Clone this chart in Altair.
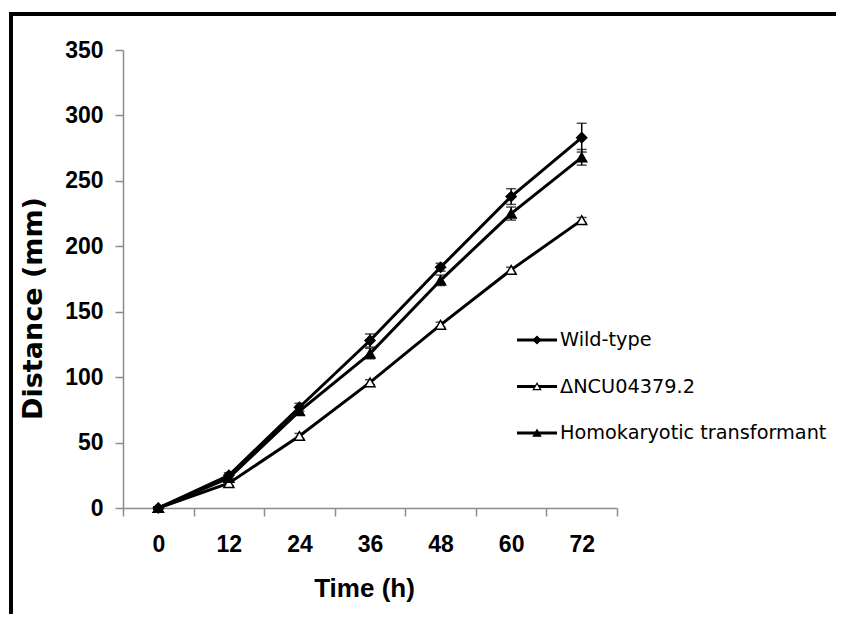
import altair as alt
import pandas as pd

# ---- data ----
time = [0, 12, 24, 36, 48, 60, 72]
series = ["Wild-type", "\u0394NCU04379.2", "Homokaryotic transformant"]
wt = [0, 25, 77, 128, 184, 238, 283]
wt_err = [1, 2, 3, 5, 3, 6, 11]
ncu = [0, 19, 55, 96, 140, 182, 220]
ncu_err = [1, 2, 2, 2, 2, 2, 2]
homo = [0, 23, 74, 118, 174, 225, 268]
homo_err = [1, 2, 3, 4, 4, 5, 6]
y_ticks = [0, 50, 100, 150, 200, 250, 300, 350]

rows = []
for name, vals, errs in zip(series, [wt, ncu, homo], [wt_err, ncu_err, homo_err]):
    for t, v, e in zip(time, vals, errs):
        rows.append({"series": name, "time": t, "value": v, "lo": v - e, "hi": v + e})
df = pd.DataFrame(rows)
legend_df = pd.DataFrame({"series": series})
one = pd.DataFrame({"k": [0]})

# category-style axis: ticks between categories
step = time[1] - time[0]
bounds = [t - step / 2 for t in time] + [time[-1] + step / 2]

FONT = "Liberation Sans"
WIDE = "DejaVu Sans"
AX = "#8c8c8c"

xscale = alt.Scale(domain=[bounds[0], bounds[-1]], nice=False, zero=False)
yscale = alt.Scale(domain=[0, 350], nice=False)

shape_scale = alt.Scale(domain=series, range=["diamond", "triangle-up", "triangle-up"])
fill_scale = alt.Scale(domain=series, range=["black", "white", "black"])

tick_axis = alt.Axis(orient="bottom", values=bounds, labels=False, title=None, grid=False,
                     domainColor=AX, domainWidth=1.5, tickColor=AX, tickWidth=1.5,
                     tickSize=8)
label_axis = alt.Axis(orient="bottom", values=time, ticks=False, domain=False, grid=False,
                      labelFont=FONT, labelFontSize=23, labelFontWeight="bold",
                      labelColor="black", labelPadding=25,
                      title="Time (h)", titleFont=FONT, titleFontSize=26,
                      titleFontWeight="bold", titleColor="black",
                      titleX=241, titleY=80, titleBaseline="middle")
y_axis = alt.Axis(orient="left", values=y_ticks, grid=False, domainColor=AX, domainWidth=1.5,
                  tickColor=AX, tickWidth=1.5, tickSize=8, labelPadding=12,
                  labelFont=FONT, labelFontSize=23, labelFontWeight="bold",
                  labelColor="black", labelBaseline="middle",
                  title="Distance (mm)", titleFont=WIDE, titleFontSize=27,
                  titleFontWeight="bold", titleColor="black",
                  titleX=-90, titleY=258, titleAlign="center", titleBaseline="middle")

base = alt.Chart(df)

err = base.mark_rule(color="black", strokeWidth=1.5).encode(
    x=alt.X("time:Q", scale=xscale, axis=tick_axis),
    y=alt.Y("lo:Q", scale=yscale, axis=y_axis),
    y2="hi:Q",
)
cap_hi = base.mark_tick(color="black", orient="horizontal", size=10, thickness=1.5).encode(
    x=alt.X("time:Q", scale=xscale, axis=None),
    y=alt.Y("hi:Q", scale=yscale, axis=y_axis),
)
cap_lo = base.mark_tick(color="black", orient="horizontal", size=10, thickness=1.5).encode(
    x=alt.X("time:Q", scale=xscale, axis=None),
    y=alt.Y("lo:Q", scale=yscale, axis=y_axis),
)
lines = base.mark_line(color="black", strokeWidth=3).encode(
    x=alt.X("time:Q", scale=xscale, axis=label_axis),
    y=alt.Y("value:Q", scale=yscale, axis=y_axis),
    detail="series:N",
)
points = base.mark_point(filled=True, stroke="black", strokeWidth=1.5, opacity=1, size=100).encode(
    x=alt.X("time:Q", scale=xscale, axis=None),
    y=alt.Y("value:Q", scale=yscale, axis=y_axis),
    shape=alt.Shape("series:N", scale=shape_scale, legend=None),
    fill=alt.Fill("series:N", scale=fill_scale, legend=None),
)

main = alt.layer(err, cap_hi, cap_lo, lines, points).resolve_axis(x="independent")

ly = alt.Y("series:N", scale=alt.Scale(type="point", domain=series, range=[290, 383], padding=0), axis=None)
lg = alt.Chart(legend_df)
leg_rule = lg.mark_rule(color="black", strokeWidth=3).encode(
    x=alt.value(394), x2=alt.value(434), y=ly)
leg_pt = lg.mark_point(filled=True, stroke="black", strokeWidth=1.2, opacity=1, size=55).encode(
    x=alt.value(414), y=ly,
    shape=alt.Shape("series:N", scale=shape_scale, legend=None),
    fill=alt.Fill("series:N", scale=fill_scale, legend=None),
)
leg_txt = lg.mark_text(align="left", baseline="middle", font=WIDE, fontSize=19.3, color="black").encode(
    x=alt.value(437), y=ly, text="series:N")
legend = alt.layer(leg_rule, leg_pt, leg_txt)

border_left = alt.Chart(one).mark_rule(color="black", strokeWidth=4).encode(
    x=alt.value(-112), y=alt.value(-38), y2=alt.value(700))
border_top = alt.Chart(one).mark_rule(color="black", strokeWidth=4).encode(
    x=alt.value(-114), x2=alt.value(900), y=alt.value(-36))

chart = alt.layer(main, legend, border_left, border_top).resolve_scale(
    y="independent"
).properties(
    width=494, height=458,
    padding={"left": 115, "top": 42, "right": 219, "bottom": 106},
    autosize=alt.AutoSizeParams(type="none"),
).configure_view(stroke=None)

chart.save("out.html", embed_options={"renderer": "svg", "actions": False})
